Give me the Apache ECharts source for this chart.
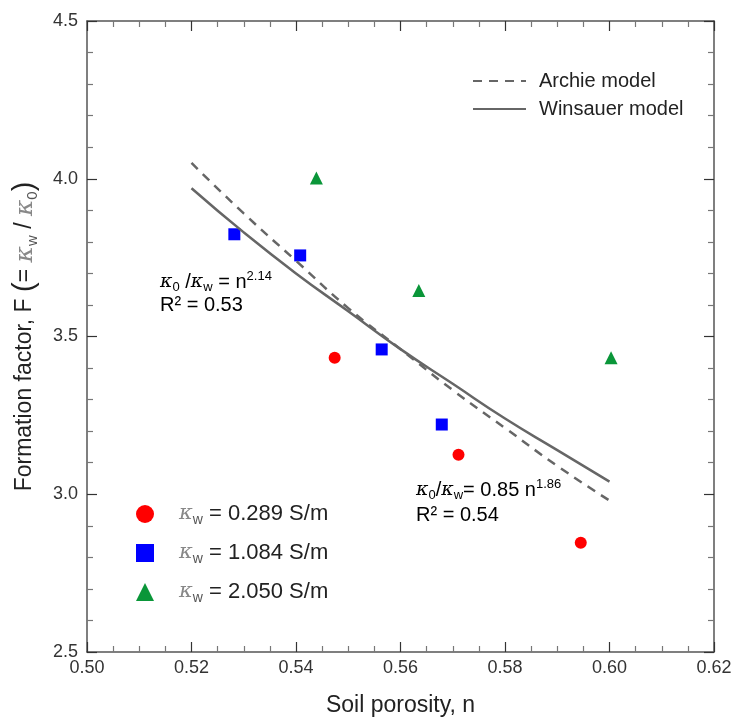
<!DOCTYPE html>
<html>
<head>
<meta charset="utf-8">
<script src="https://cdn.jsdelivr.net/npm/echarts@6/dist/echarts.min.js"></script>
<style>html,body{margin:0;padding:0;background:#fff;}#c{width:735px;height:718px;}</style>
</head>
<body>
<div id="c"></div>
<script>
// Measured points (porosity n, formation factor F)
const redN = [0.5474, 0.5711, 0.5945];
const redF = [3.433, 3.125, 2.846];
const blueN = [0.5282, 0.5408, 0.5564, 0.5679];
const blueF = [3.824, 3.757, 3.459, 3.221];
const greenN = [0.5439, 0.5635, 0.6003];
const greenF = [4.002, 3.646, 3.433];
// Model curves
const curveN = [0.52, 0.53, 0.54, 0.55, 0.56, 0.57, 0.58, 0.59, 0.60];
const archieF = [4.05, 3.89, 3.74, 3.59, 3.46, 3.33, 3.21, 3.09, 2.98];
const winsauerF = [3.97, 3.83, 3.70, 3.58, 3.46, 3.35, 3.24, 3.14, 3.04];
// Axis ticks
const xTicks = [0.50, 0.52, 0.54, 0.56, 0.58, 0.60, 0.62];
const yTicks = [2.5, 3.0, 3.5, 4.0, 4.5];
const legendLabels = ['0.289', '1.084', '2.050'];

const zip = (a, b) => a.map((v, i) => [v, b[i]]);
const FONT = '"Liberation Sans", Arial, sans-serif';
const KFONT = '"DejaVu Serif", serif';
const AX = '#555';

function rich(size) {
  return {
    n: {fontFamily: FONT, fontSize: size, color: '#222', lineHeight: size + 4},
    k: {fontFamily: KFONT, fontStyle: 'italic', fontSize: size - 1, color: '#888', lineHeight: size + 4},
    sub: {fontFamily: FONT, fontSize: Math.round(size * 0.65), color: '#555', verticalAlign: 'bottom', lineHeight: 14},
    sup: {fontFamily: FONT, fontSize: Math.round(size * 0.65), color: '#555', verticalAlign: 'top', lineHeight: 14}
  };
}

const chart = echarts.init(document.getElementById('c'));
const axisCommon = {
  axisLine: {show: true, lineStyle: {color: AX, width: 1.5}},
  axisTick: {show: true, inside: true, length: 10, lineStyle: {color: '#333', width: 1.2}},
  minorTick: {show: true, length: 6, lineStyle: {color: '#777', width: 1.2}},
  splitLine: {show: false}
};
const xBase = Object.assign({}, axisCommon, {type: 'value', min: xTicks[0], max: xTicks[xTicks.length - 1], interval: 0.02,
  minorTick: Object.assign({}, axisCommon.minorTick, {splitNumber: 4})});
const yBase = Object.assign({}, axisCommon, {type: 'value', min: yTicks[0], max: yTicks[yTicks.length - 1], interval: 0.5,
  minorTick: Object.assign({}, axisCommon.minorTick, {splitNumber: 5})});

chart.setOption({
  animation: false,
  backgroundColor: '#fff',
  grid: {left: 87, right: 21, top: 21, bottom: 66, outerBoundsMode: 'none', containLabel: false},
  xAxis: [
    Object.assign({}, xBase, {
      position: 'bottom',
      axisLabel: {fontFamily: FONT, fontSize: 18, color: '#333', margin: 7, formatter: v => v.toFixed(2)},
      name: 'Soil porosity, n', nameLocation: 'middle', nameGap: 42,
      nameTextStyle: {fontFamily: FONT, fontSize: 23, color: '#222'}
    }),
    Object.assign({}, xBase, {position: 'top', axisLabel: {show: false}})
  ],
  yAxis: [
    Object.assign({}, yBase, {
      position: 'left',
      axisLabel: {fontFamily: FONT, fontSize: 18, color: '#333', margin: 9, formatter: v => v.toFixed(1)},
      name: '{n|Formation factor, F }{p|(}{n|= }{k|κ}{sub|w}{n| / }{k|κ}{sub|0}{p|)}',
      nameLocation: 'middle', nameGap: 47, nameRotate: 90,
      nameTextStyle: {
        fontFamily: FONT, fontSize: 23, color: '#222',
        rich: {
          n: {fontFamily: FONT, fontSize: 23, color: '#222', lineHeight: 30},
          p: {fontFamily: FONT, fontSize: 29, color: '#222', lineHeight: 30},
          k: {fontFamily: KFONT, fontStyle: 'italic', fontSize: 25, color: '#888', lineHeight: 30},
          sub: {fontFamily: FONT, fontSize: 15, color: '#555', verticalAlign: 'bottom', lineHeight: 17}
        }
      }
    }),
    Object.assign({}, yBase, {position: 'right', axisLabel: {show: false}})
  ],
  legend: [
    {
      orient: 'vertical', left: 131, top: 498, itemWidth: 18, itemHeight: 18, itemGap: 15,
      data: [{name: legendLabels[0], icon: 'circle'}, {name: legendLabels[1], icon: 'rect'}, {name: legendLabels[2], icon: 'triangle'}],
      formatter: name => '{k|κ}{sub|w}{n| = ' + name + ' S/m}',
      textStyle: {padding: [0, 0, 0, 20], rich: rich(22)},
      selectedMode: false
    },
    {
      orient: 'vertical', left: 467, top: 66, itemWidth: 53, itemHeight: 16, itemGap: 8,
      data: ['Archie model', 'Winsauer model'],
      itemStyle: {opacity: 0},
      textStyle: {fontFamily: FONT, fontSize: 20, color: '#222', padding: [0, 0, 0, 8]},
      selectedMode: false
    }
  ],
  series: [
    {name: 'Archie model', type: 'line', data: zip(curveN, archieF), smooth: true, showSymbol: false, symbol: 'none',
      lineStyle: {color: '#666', width: 2.5, type: [9, 7]}, itemStyle: {color: '#666'}},
    {name: 'Winsauer model', type: 'line', data: zip(curveN, winsauerF), smooth: true, showSymbol: false, symbol: 'none',
      lineStyle: {color: '#666', width: 2.5}, itemStyle: {color: '#666'}},
    {name: legendLabels[0], type: 'scatter', symbol: 'circle', symbolSize: 12, data: zip(redN, redF), itemStyle: {color: '#ff0000', opacity: 1}},
    {name: legendLabels[1], type: 'scatter', symbol: 'rect', symbolSize: 12, data: zip(blueN, blueF), itemStyle: {color: '#0000ff', opacity: 1}},
    {name: legendLabels[2], type: 'scatter', symbol: 'triangle', symbolSize: 13, data: zip(greenN, greenF), itemStyle: {color: '#0a9639', opacity: 1}}
  ],
  graphic: [
    {type: 'text', left: 160, top: 270, style: {text: '{k|κ}{sub|0}{n| /}{k|κ}{sub|w}{n| = n}{sup|2.14}', rich: rich(20)}},
    {type: 'text', left: 160, top: 295, style: {text: '{n|R² = 0.53}', rich: rich(20)}},
    {type: 'text', left: 416, top: 478, style: {text: '{k|κ}{sub|0}{n|/}{k|κ}{sub|w}{n|= 0.85 n}{sup|1.86}', rich: rich(20)}},
    {type: 'text', left: 416, top: 505, style: {text: '{n|R² = 0.54}', rich: rich(20)}}
  ]
});
</script>
</body>
</html>
